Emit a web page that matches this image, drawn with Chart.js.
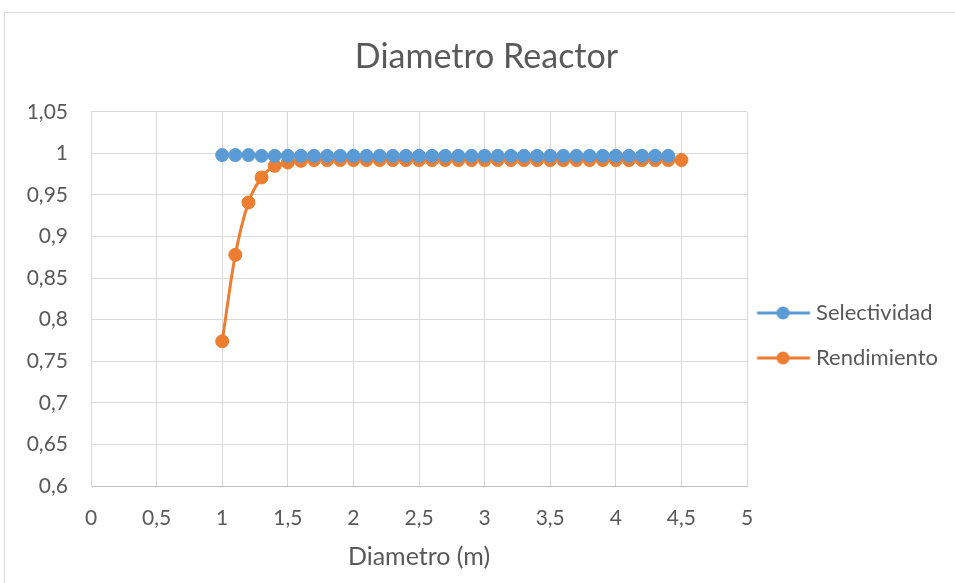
<!DOCTYPE html>
<html>
<head>
<meta charset="utf-8">
<script src="https://cdn.jsdelivr.net/npm/chart.js"></script>
<style>
  html, body { margin: 0; padding: 0; background: #fff; overflow: hidden; }
  #frame { position: absolute; left: 4px; top: 12px; width: 1000px; height: 1000px; border: 1px solid #d9d9d9; }
  #wrap { position: absolute; left: 0; top: 0; width: 955px; height: 583px; }
</style>
</head>
<body>
<div id="frame"></div>
<div id="wrap"><canvas id="myChart"></canvas></div>
<script>
// diametro (m) for each run
const diametro = [1.0, 1.1, 1.2, 1.3, 1.4, 1.5, 1.6, 1.7, 1.8, 1.9,
                  2.0, 2.1, 2.2, 2.3, 2.4, 2.5, 2.6, 2.7, 2.8, 2.9,
                  3.0, 3.1, 3.2, 3.3, 3.4, 3.5, 3.6, 3.7, 3.8, 3.9,
                  4.0, 4.1, 4.2, 4.3, 4.4, 4.5]

// selectividad was only computed up to 4.4 m
const selectividad = [0.998, 0.998, 0.998, 0.997, 0.997, 0.997, 0.997, 0.997, 0.997, 0.997,
                      0.997, 0.997, 0.997, 0.997, 0.997, 0.997, 0.997, 0.997, 0.997, 0.997,
                      0.997, 0.997, 0.997, 0.997, 0.997, 0.997, 0.997, 0.997, 0.997, 0.997,
                      0.997, 0.997, 0.997, 0.997, 0.997]

const rendimiento = [0.774, 0.878, 0.941, 0.971, 0.985, 0.989, 0.991, 0.992, 0.992, 0.992,
                     0.992, 0.992, 0.992, 0.992, 0.992, 0.992, 0.992, 0.992, 0.992, 0.992,
                     0.992, 0.992, 0.992, 0.992, 0.992, 0.992, 0.992, 0.992, 0.992, 0.992,
                     0.992, 0.992, 0.992, 0.992, 0.992, 0.992]

const xTicks = { min: 0, max: 5, step: 0.5 }
const yTicks = { min: 0.6, max: 1.05, step: 0.05 }

const BLUE = '#5b9bd5'
const ORANGE = '#ed7d31'
const TEXT = '#595959'
const FONT = 'Lato'

const toPoints = (xs, ys) => ys.map((y, i) => ({ x: xs[i], y: y }))
const comma = v => String(+v.toFixed(2)).replace('.', ',')

// legend symbol: short line with a dot in the middle
const legendMarker = color => {
  const c = document.createElement('canvas')
  c.width = 80
  c.height = 16
  const g = c.getContext('2d')
  g.strokeStyle = color
  g.lineWidth = 3
  g.beginPath(); g.moveTo(9.5, 8); g.lineTo(62.5, 8); g.stroke()
  g.fillStyle = color
  g.beginPath(); g.arc(35.5, 8, 6.5, 0, Math.PI * 2); g.fill()
  return c
}
const markers = [legendMarker(BLUE), legendMarker(ORANGE)]

const data = {
  datasets: [
    {
      label: 'Selectividad',
      data: toPoints(diametro, selectividad),
      borderColor: BLUE,
      backgroundColor: BLUE,
      borderWidth: 3,
      pointRadius: 6.5,
      pointBorderWidth: 1,
      tension: 0.3
    },
    {
      label: 'Rendimiento',
      data: toPoints(diametro, rendimiento),
      borderColor: ORANGE,
      backgroundColor: ORANGE,
      borderWidth: 3,
      pointRadius: 6.5,
      pointBorderWidth: 1,
      tension: 0.3
    }
  ]
}

const config = {
  type: 'line',
  data: data,
  options: {
    responsive: true,
    maintainAspectRatio: false,
    animation: false,
    layout: { padding: { left: 25, right: 7, top: 0, bottom: 0 } },
    plugins: {
      tooltip: { enabled: false },
      title: {
        display: true,
        text: 'Diametro Reactor',
        color: TEXT,
        font: { family: FONT, size: 34, weight: 'normal' },
        padding: { top: 37, bottom: 34 }
      },
      legend: {
        position: 'right',
        align: 'center',
        title: { display: true, text: ' ', font: { size: 10 }, padding: { top: 0, bottom: 76 } },
        labels: {
          color: TEXT,
          font: { family: FONT, size: 22 },
          usePointStyle: true,
          pointStyleWidth: 35,
          padding: 23,
          generateLabels: chart => Chart.defaults.plugins.legend.labels.generateLabels(chart)
            .map((item, i) => ({ ...item, pointStyle: markers[i] }))
        }
      }
    },
    scales: {
      x: {
        type: 'linear',
        min: xTicks.min,
        max: xTicks.max,
        ticks: {
          stepSize: xTicks.step,
          color: TEXT,
          font: { family: FONT, size: 21 },
          padding: 20,
          callback: comma
        },
        grid: { color: '#d9d9d9', drawTicks: false },
        border: { color: '#bfbfbf' },
        title: {
          display: true,
          text: 'Diametro (m)',
          color: TEXT,
          font: { family: FONT, size: 25 },
          padding: { top: 4, bottom: 11 }
        },
        afterFit: scale => { scale.height = 97 }
      },
      y: {
        min: yTicks.min,
        max: yTicks.max,
        ticks: {
          stepSize: yTicks.step,
          color: TEXT,
          font: { family: FONT, size: 21 },
          padding: 23,
          callback: comma
        },
        grid: { color: '#d9d9d9', drawTicks: false },
        border: { color: '#d9d9d9' },
        afterFit: scale => { scale.width = 66 }
      }
    }
  }
}

const myChart = new Chart(document.getElementById('myChart'), config)
</script>
</body>
</html>
